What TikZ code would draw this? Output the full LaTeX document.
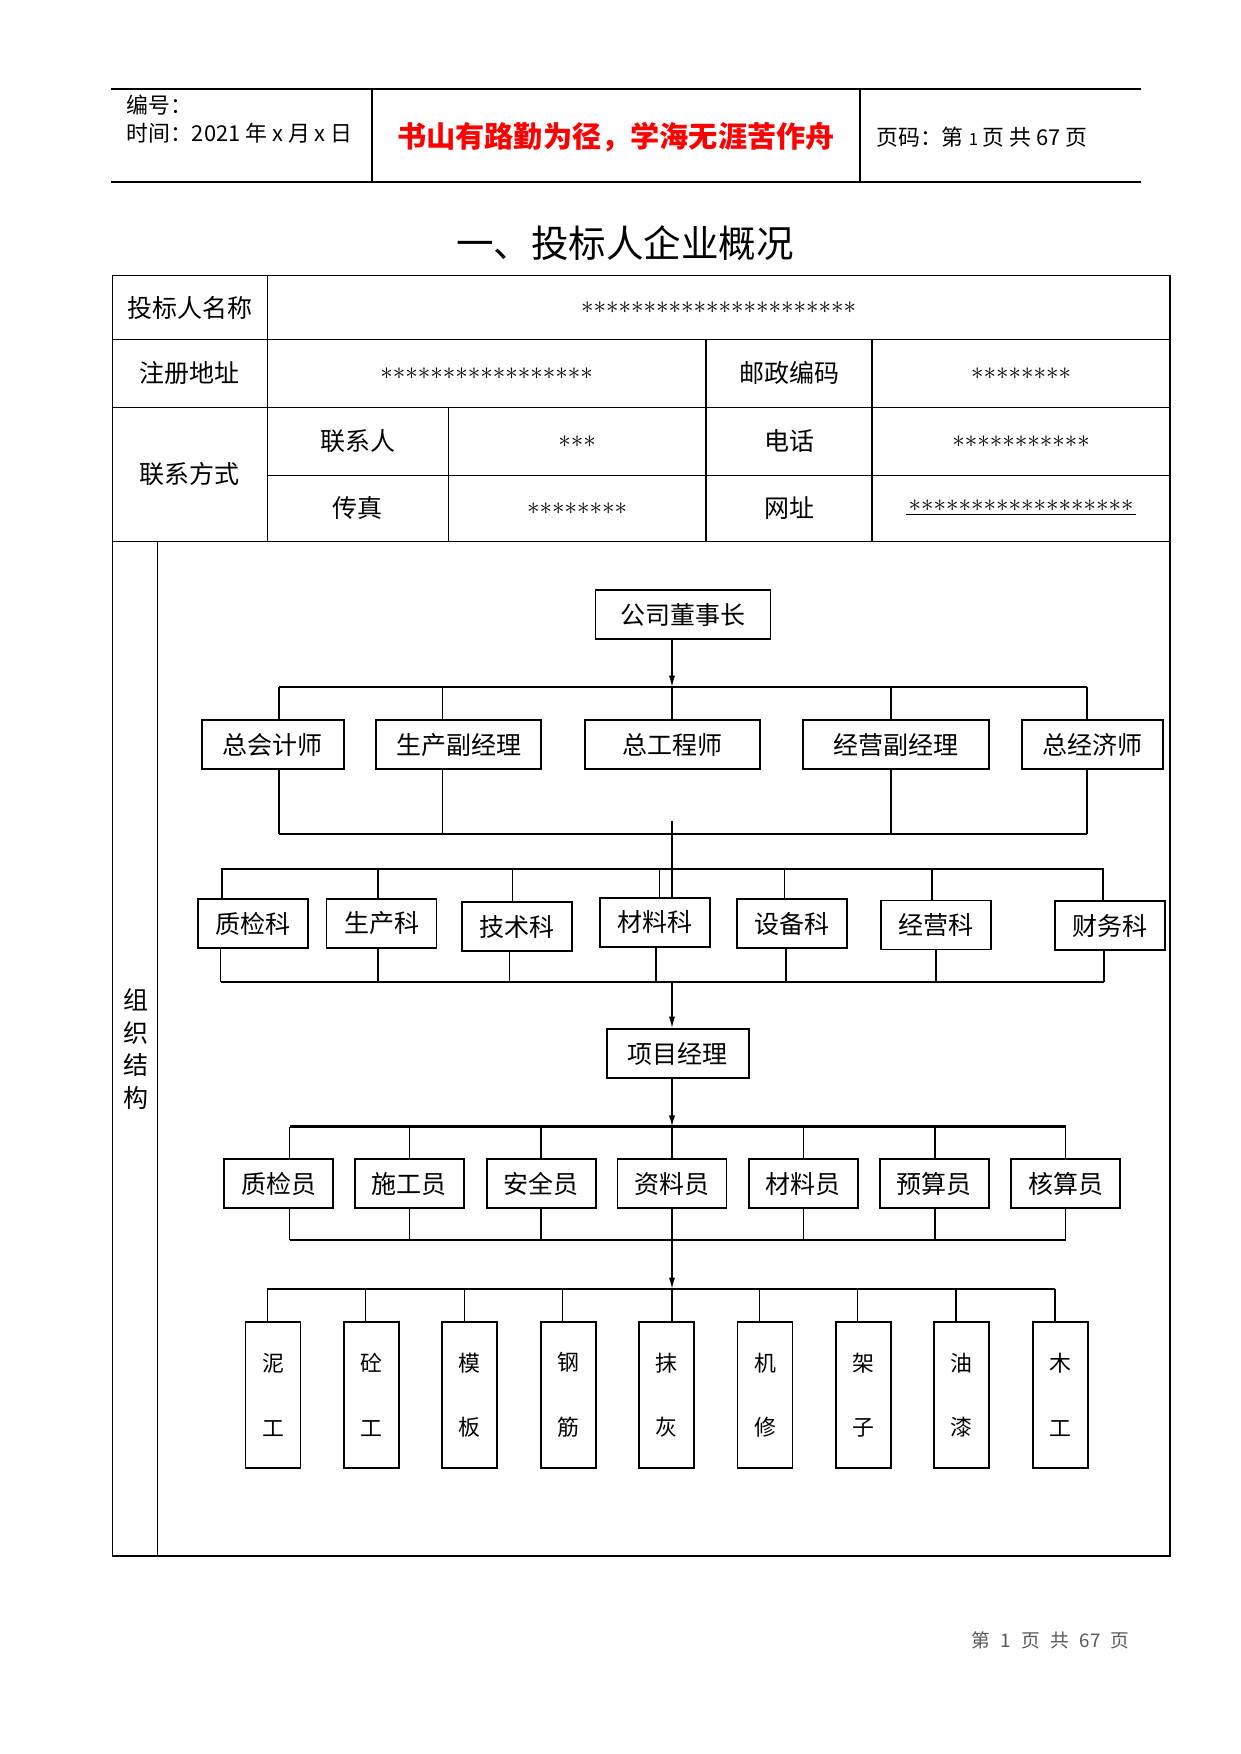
\documentclass[tikz,border=0pt]{standalone}
\usepackage{fontspec}
\newfontfamily\cjk{Noto Sans CJK SC}
\usetikzlibrary{arrows.meta}
\definecolor{R1}{RGB}{255,0,0}
\definecolor{G1}{gray}{0.35}
\newcommand\px{0.48pt}
\newcommand\starrow[1]{\foreach \k in {1,...,#1}{$\ast$}}
\tikzset{
  headline/.style={line width=1.1pt},
  gridline/.style={line width=0.65pt},
  link/.style={line width=0.55pt},
  bar/.style={line width=1.2pt},
  arr/.style={-{Latex[length=5.5pt,width=3pt]},line width=0.7pt},
  cell/.style={font=\cjk\fontsize{12}{14}\selectfont},
  orgbox/.style={draw,line width=0.9pt,inner sep=0pt,minimum height=49*\px,font=\cjk\fontsize{12}{14}\selectfont},
  workbox/.style={draw,line width=0.9pt,inner sep=0pt,minimum width=55*\px,minimum height=146*\px,align=center,font=\cjk\fontsize{10.5}{31}\selectfont},
}
\begin{document}
\begin{tikzpicture}[x=\px,y=-\px]
        \useasboundingbox (0,0) rectangle (1241,1754);
        % header
        \draw [headline] (110.8,89.3)--(1141,89.3);
        \draw [headline] (110.8,182.3)--(1141,182.3);
        \draw [link] (372,89.3)--(372,182.3);
        \draw [link] (860,89.3)--(860,182.3);
        \node [anchor=west,font=\cjk\fontsize{10.5}{12}\selectfont] (num) at (119,105) {编号：};
        \node [anchor=west,font=\cjk\fontsize{10.5}{12}\selectfont] (date) at (119,133) {时间：2021 年 x 月 x 日};
        \node [font=\cjk\fontsize{14}{16}\selectfont\bfseries,text=R1] (motto) at (616,137) {书山有路勤为径，学海无涯苦作舟};
        \node [anchor=west,font=\cjk\fontsize{10.5}{12}\selectfont] (pageno) at (869,137) {页码：第 {\fontsize{8}{9}\selectfont 1} 页 共 67 页};
        \node [font=\cjk\fontsize{18}{20}\selectfont] (title) at (625,243) {一、投标人企业概况};
        % table
        \draw [gridline] (112.3,275.7) rectangle (1170,1556);
        \draw [gridline] (112.3,339.3)--(1170,339.3);
        \draw [gridline] (112.3,407.3)--(1170,407.3);
        \draw [gridline] (267.3,475.3)--(1170,475.3);
        \draw [gridline] (112.3,541.3)--(1170,541.3);
        \draw [gridline] (267.3,275.7)--(267.3,541.3);
        \draw [gridline] (448.4,407.3)--(448.4,541.3);
        \draw [gridline] (706,339.3)--(706,541.3);
        \draw [gridline] (871.9,339.3)--(871.9,541.3);
        \draw [gridline] (157.6,541.3)--(157.6,1556);
        \node [cell] (namek) at (189.6,308) {投标人名称};
        \node [cell] (namev) at (718.5,308) {\starrow{22}};
        \node [cell] (addrk) at (189.6,373.3) {注册地址};
        \node [cell] (addrv) at (486.7,373.3) {\starrow{17}};
        \node [cell] (postk) at (789,373.3) {邮政编码};
        \node [cell] (postv) at (1021,373.3) {\starrow{8}};
        \node [cell] (contk) at (189.6,474.3) {联系方式};
        \node [cell] (persk) at (357.8,441.3) {联系人};
        \node [cell] (persv) at (577,441.3) {\starrow{3}};
        \node [cell] (telk) at (789,441.3) {电话};
        \node [cell] (telv) at (1021,441.3) {\starrow{11}};
        \node [cell] (faxk) at (357.8,508.3) {传真};
        \node [cell] (faxv) at (577,508.3) {\starrow{8}};
        \node [cell] (webk) at (789,508.3) {网址};
        \node [cell,inner sep=1pt,font=\cjk\fontsize{11.5}{14}\selectfont] (webv) at (1021,506) {\starrow{18}};
        \draw [link] (webv.south west)--(webv.south east);
        \node [cell,align=center,font=\cjk\fontsize{12}{15.6}\selectfont] (orgk) at (136,1049) {组\\织\\结\\构};
        % level 1
        \node [orgbox,minimum width=175*\px] (chair) at (683,614.6) {公司董事长};
        \coordinate (axis) at (672,0);
        \draw [arr] (axis |- chair.south)--(672,687);
        \draw [bar] (279,687)--(1087,687);
        % level 2
        \node [orgbox,minimum width=142*\px] (acct) at (272.7,744.7) {总会计师};
        \node [orgbox,minimum width=165*\px] (prod) at (458.8,744.7) {生产副经理};
        \node [orgbox,minimum width=175*\px] (eng) at (672.3,744.7) {总工程师};
        \node [orgbox,minimum width=186*\px] (biz) at (896,744.7) {经营副经理};
        \node [orgbox,minimum width=141*\px] (econ) at (1092.7,744.7) {总经济师};
        \foreach \n/\x in {acct/279,prod/442.7,eng/672,biz/891,econ/1087}
            \draw [link] (\x,687)--(\x,687 |- \n.north);
        \foreach \n/\x in {acct/279,prod/442.7,biz/891,econ/1087}
            \draw [link] (\x,834 |- \n.south)--(\x,834);
        \draw [link] (279,834)--(1087,834);
        % level 3
        \node [orgbox,minimum width=110*\px] (qcd) at (253.2,923.8) {质检科};
        \node [orgbox,minimum width=110*\px] (prd) at (381.5,923.5) {生产科};
        \node [orgbox,minimum width=110*\px] (tech) at (516.7,926.7) {技术科};
        \node [orgbox,minimum width=110*\px] (matd) at (655,922.2) {材料科};
        \node [orgbox,minimum width=110*\px] (equip) at (791.6,923.5) {设备科};
        \node [orgbox,minimum width=110*\px] (sales) at (936,925) {经营科};
        \node [orgbox,minimum width=110*\px] (fin) at (1110,925.5) {财务科};
        \draw [link] (672,821)--(672,821 |- matd.north);
        \draw [link] (221,869)--(1104,869);
        \foreach \n/\x in {qcd/222,prd/378,tech/512.8,matd/659.5,equip/784.5,sales/932,fin/1103}
            \draw [link] (\x,869)--(\x,869 |- \n.north);
        \foreach \n/\x in {qcd/220.7,prd/378,tech/509.6,matd/656,equip/786,sales/936,fin/1104}
            \draw [link] (\x,982 |- \n.south)--(\x,982);
        \draw [link] (220.7,982)--(1104,982);
        % project manager
        \node [orgbox,minimum width=142*\px] (pm) at (677.7,1053.5) {项目经理};
        \draw [arr] (672,982)--(axis |- pm.north);
        \draw [arr] (axis |- pm.south)--(672,1126.7);
        \draw [bar] (289.6,1126.7)--(1065.8,1126.7);
        % staff
        \foreach \n/\c/\x/\t in {s1/278.5/289.6/质检员,s2/409.2/409.5/施工员,s3/541.2/541/安全员,s4/672/672/资料员,s5/803.3/803.7/材料员,s6/934.2/935/预算员,s7/1065.6/1065.8/核算员}{
            \node [orgbox,minimum width=109*\px] (\n) at (\c,1183.8) {\t};
            \draw [link] (\x,1126.7)--(\x,1126.7 |- \n.north);
            \draw [link] (\x,1240 |- \n.south)--(\x,1240);
        }
        \draw [link] (289.6,1240)--(1065.8,1240);
        \draw [arr] (672,1240)--(672,1289);
        % workers
        \draw [link] (267.3,1289)--(1055,1289);
        \foreach \n/\c/\x/\t in {w1/273/267.3/泥\\工,w2/371.4/365.5/砼\\工,w3/469.8/464.4/模\\板,w4/568.2/562.6/钢\\筋,w5/666.6/672/抹\\灰,w6/765/759.6/机\\修,w7/863.4/857.8/架\\子,w8/961.8/956/油\\漆,w9/1060.2/1055/木\\工}{
            \node [workbox] (\n) at (\c,1395) {\t};
            \draw [link] (\x,1289)--(\x,1289 |- \n.north);
        }
        % footer
        \node [anchor=west,font=\cjk\fontsize{9}{10}\selectfont,text=G1] (foot) at (964,1640) {第\hspace{5pt}1\hspace{5pt}页\hspace{5pt}共\hspace{5pt}67\hspace{5pt}页};
\end{tikzpicture}
\end{document}
